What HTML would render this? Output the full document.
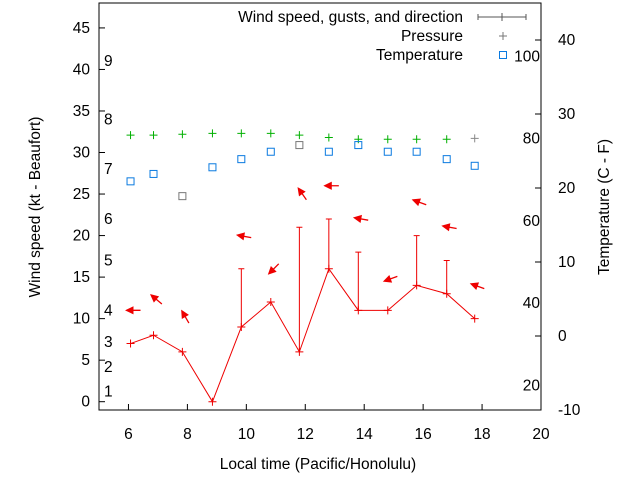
<!DOCTYPE html>
<html><head><meta charset="utf-8"><style>
body{margin:0;background:#fff}
svg{display:block;font-family:"Liberation Sans",sans-serif;font-size:15.5px}
</style></head><body>
<svg id="c" width="640" height="480"></svg>
<script>
const hours=[6.07,6.85,7.83,8.85,9.83,10.83,11.8,12.8,13.8,14.8,15.78,16.8,17.75];
const speed=[7,8,6,0,9,12,6,16,11,11,14,13,10];
const gust=[7,8,6,0,16,12,21,22,18,11,20,17,10];
const arrowY=[11,12.3,10.2,null,19.9,16,25,26,22,14.8,24,21,13.9];
const arrowHeading=[180,220,240,null,190,135,235,180,190,160,200,190,200];
const pressure=[32.1,32.1,32.2,32.3,32.3,32.3,32.1,31.8,31.6,31.6,31.6,31.6,31.7];
const pressureColor=["#00b000","#00b000","#00b000","#00b000","#00b000","#00b000","#00b000","#00b000","#00b000","#00b000","#00b000","#00b000","#888"];
const tempC=[20.9,21.9,18.9,22.8,23.9,24.9,25.8,24.9,25.8,24.9,24.9,23.9,23];
const tempColor=["#0a7ae0","#0a7ae0","#777","#0a7ae0","#0a7ae0","#0a7ae0","#777","#0a7ae0","#0a7ae0","#0a7ae0","#0a7ae0","#0a7ae0","#0a7ae0"];
const xTicks=[6,8,10,12,14,16,18,20];
const yTicks=[0,5,10,15,20,25,30,35,40,45];
const cTicks=[-10,0,10,20,30,40];
const fLabels=[20,40,60,80,100];
const bftLabels=["1","2","3","4","5","6","7","8","9"];
const bftPos=[1.2,4.2,7.2,11,17,22,28,34,41];

const L=99,R=541,T=3,B=410;
const X=v=>L+(v-5)/(20-5)*(R-L);
const Y=v=>B-(v+1)/(48+1)*(B-T);
const YC=c=>B-(c+10)/(45+10)*(B-T);
const svg=document.getElementById('c');
const NS='http://www.w3.org/2000/svg';
function mk(tag,a,name,txt){const e=document.createElementNS(NS,tag);for(const k in a)e.setAttribute(k,a[k]);


if(txt!==undefined)e.textContent=txt;svg.appendChild(e);return e;}
mk('rect',{x:L,y:T,width:R-L,height:B-T,fill:'none',stroke:'#000'},'plot-border');
xTicks.forEach(t=>{mk('line',{x1:X(t),x2:X(t),y1:B,y2:B-6,stroke:'#000'},'x-tick');
mk('text',{x:X(t),y:B+29,'text-anchor':'middle'},'x-tick-label',t);});
yTicks.forEach(t=>{mk('line',{x1:L,x2:L+6,y1:Y(t),y2:Y(t),stroke:'#000'},'y-tick');
mk('text',{x:L-9,y:Y(t)+5,'text-anchor':'end'},'y-tick-label',t);});
cTicks.forEach(t=>{mk('line',{x1:R,x2:R-6,y1:YC(t),y2:YC(t),stroke:'#000'},'y2-tick');
mk('text',{x:R+17,y:YC(t)+5,'text-anchor':'start'},'y2-tick-label',t);});
fLabels.forEach(f=>{mk('text',{x:R-1,y:YC((f-32)*5/9)+5,'text-anchor':'end'},'fahrenheit-label',f);});
bftLabels.forEach((b,i)=>{mk('text',{x:104,y:Y(bftPos[i])+5},'beaufort-label',b);});
mk('text',{x:318,y:469,'text-anchor':'middle'},'x-axis-title','Local time (Pacific/Honolulu)');
mk('text',{x:40,y:207,'text-anchor':'middle',transform:'rotate(-90 40 207)'},'y-axis-title','Wind speed (kt - Beaufort)');
mk('text',{x:609,y:207,'text-anchor':'middle',transform:'rotate(-90 609 207)'},'y2-axis-title','Temperature (C - F)');
const plus=(x,y,c,n)=>{mk('path',{d:`M${x-4},${y}h8M${x},${y-4}v8`,stroke:c,fill:'none'},n);};
hours.forEach((h,i)=>plus(X(h),Y(pressure[i]),pressureColor[i],'pressure-point'));
hours.forEach((h,i)=>mk('rect',{x:X(h)-3.5,y:YC(tempC[i])-3.5,width:7,height:7,fill:'none',stroke:tempColor[i]},'temperature-point'));
mk('polyline',{points:hours.map((h,i)=>X(h)+','+Y(speed[i])).join(' '),fill:'none',stroke:'#e00'},'wind-speed-line');
hours.forEach((h,i)=>{plus(X(h),Y(speed[i]),'#e00','wind-speed-point');
if(gust[i]>speed[i]){mk('path',{d:`M${X(h)},${Y(speed[i])}V${Y(gust[i])}M${X(h)-3},${Y(gust[i])}h6`,stroke:'#e00',fill:'none'},'gust-bar');}});
hours.forEach((h,i)=>{if(arrowY[i]==null)return;const a=arrowHeading[i]*Math.PI/180,cx=X(h)+3,cy=Y(arrowY[i]);
const hx=cx+Math.cos(a)*7,hy=cy+Math.sin(a)*7,tx=cx-Math.cos(a)*7,ty=cy-Math.sin(a)*7;
const p1x=hx-Math.cos(a-0.45)*7,p1y=hy-Math.sin(a-0.45)*7,p2x=hx-Math.cos(a+0.45)*7,p2y=hy-Math.sin(a+0.45)*7;
mk('path',{d:`M${tx},${ty}L${hx},${hy}M${hx},${hy}L${p1x},${p1y}L${p2x},${p2y}Z`,stroke:'#e00',fill:'#e00','stroke-width':1.3},'wind-direction-arrow');});
mk('text',{x:463,y:22,'text-anchor':'end'},'legend-wind-label','Wind speed, gusts, and direction');
mk('path',{d:'M478,17h48M478,14v6M526,14v6M502,13v8',stroke:'#555',fill:'none'},'legend-wind-key');
mk('text',{x:463,y:41,'text-anchor':'end'},'legend-pressure-label','Pressure');
plus(503,36,'#777','legend-pressure-key');
mk('text',{x:463,y:60,'text-anchor':'end'},'legend-temperature-label','Temperature');
mk('rect',{x:499.5,y:51.5,width:7,height:7,fill:'none',stroke:'#0a7ae0'},'legend-temperature-key');
</script>
</body></html>
